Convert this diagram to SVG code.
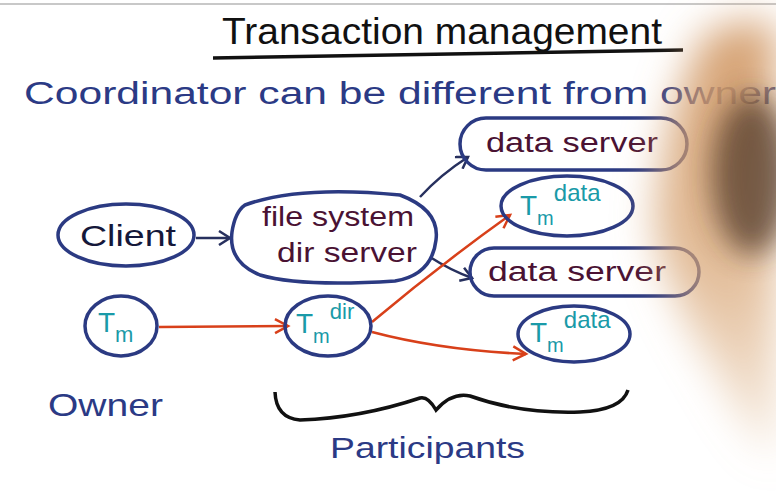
<svg xmlns="http://www.w3.org/2000/svg" width="776" height="500" viewBox="0 0 776 500">
<style>
.node{fill:none;stroke:#2b3a82;stroke-width:3.5}
.srv{font-family:"Liberation Sans",sans-serif;fill:#4a1233;font-size:27px}
.blue{font-family:"Liberation Sans",sans-serif;fill:#2b3a85}
.tm{font-family:"Liberation Sans",sans-serif;fill:#1a9aa8}
.dark{stroke:#27305e;stroke-width:2.5;fill:none}
.red{stroke:#d8401a;stroke-width:2.5;fill:none}
</style>
<defs>
<marker id="ad" markerUnits="userSpaceOnUse" markerWidth="16" markerHeight="16" refX="13" refY="8" orient="auto">
<path d="M2,1 L13,8 L2,15" fill="none" stroke="#27305e" stroke-width="2.5"/>
</marker>
<marker id="ar" markerUnits="userSpaceOnUse" markerWidth="18" markerHeight="18" refX="15" refY="9" orient="auto">
<path d="M2,2 L15,9 L2,16" fill="none" stroke="#d8401a" stroke-width="2.5"/>
</marker>
<filter id="blur" x="-50%" y="-50%" width="200%" height="200%"><feGaussianBlur stdDeviation="20"/></filter>
<filter id="blur2" x="-50%" y="-50%" width="200%" height="200%"><feGaussianBlur stdDeviation="14"/></filter>
<linearGradient id="fade" x1="0" y1="0" x2="0" y2="1">
<stop offset="0" stop-color="#d29a68" stop-opacity="0.95"/>
<stop offset="0.55" stop-color="#d8a676" stop-opacity="0.75"/>
<stop offset="1" stop-color="#dcae80" stop-opacity="0.25"/>
</linearGradient>
</defs>
<rect width="776" height="500" fill="#ffffff"/>
<line x1="0" y1="4" x2="776" y2="4" stroke="#c8c8c8" stroke-width="2"/>

<g id="title">
<text x="222" y="44" font-family="Liberation Sans,sans-serif" font-size="36" fill="#111" textLength="440" lengthAdjust="spacingAndGlyphs">Transaction management</text>
<path d="M213,58 L683,50" stroke="#111" stroke-width="3.5" fill="none"/>
</g>
<text id="subtitle" class="blue" x="24" y="104" font-size="31" textLength="752" lengthAdjust="spacingAndGlyphs">Coordinator can be different from owner</text>

<g id="connectors">
<path class="dark" d="M196,238 L230,238" marker-end="url(#ad)"/>
<path class="dark" d="M420,197 Q440,175 468,157" marker-end="url(#ad)"/>
<path class="dark" d="M430,257 Q450,270 472,278" marker-end="url(#ad)"/>
<path class="red" d="M159,327 L288,326" marker-end="url(#ar)"/>
<path class="red" d="M372,322 Q440,265 510,215" marker-end="url(#ar)"/>
<path class="red" d="M372,332 Q440,350 526,354" marker-end="url(#ar)"/>
</g>

<g id="client">
<ellipse class="node" cx="126" cy="235" rx="68" ry="31"/>
<text x="80" y="246" font-family="Liberation Sans,sans-serif" font-size="30" fill="#15183a" textLength="96" lengthAdjust="spacingAndGlyphs">Client</text>
</g>
<g id="fsdir">
<path class="node" d="M245,205 Q300,185 400,195 Q440,210 436,240 Q432,275 395,281 Q300,287 260,275 Q228,262 232,232 Q235,212 245,205 Z"/>
<text class="srv" x="262" y="226" textLength="152" lengthAdjust="spacingAndGlyphs">file system</text>
<text class="srv" x="277" y="262" textLength="140" lengthAdjust="spacingAndGlyphs">dir server</text>
</g>
<g id="ds1">
<rect class="node" x="460" y="118" width="227" height="52" rx="26"/>
<text class="srv" x="486" y="152" textLength="172" lengthAdjust="spacingAndGlyphs">data server</text>
</g>
<g id="tmdata1">
<ellipse class="node" cx="567" cy="206" rx="66" ry="30"/>
<text class="tm" x="520" y="215" font-size="28">T<tspan font-size="20" dy="10">m</tspan><tspan font-size="24" dy="-24">data</tspan></text>
</g>
<g id="ds2">
<rect class="node" x="470" y="248" width="229" height="48" rx="24"/>
<text class="srv" x="488" y="281" textLength="178" lengthAdjust="spacingAndGlyphs">data server</text>
</g>
<g id="tmdata2">
<ellipse class="node" cx="574" cy="334" rx="56" ry="28"/>
<text class="tm" x="530" y="342" font-size="28">T<tspan font-size="20" dy="10">m</tspan><tspan font-size="24" dy="-24">data</tspan></text>
</g>
<g id="tmowner">
<ellipse class="node" cx="121" cy="326" rx="36" ry="30"/>
<text class="tm" x="98" y="332" font-size="28">T<tspan font-size="22" dy="10">m</tspan></text>
</g>
<g id="tmdir">
<ellipse class="node" cx="328" cy="326" rx="43" ry="30"/>
<text class="tm" x="296" y="333" font-size="28">T<tspan font-size="20" dy="10">m</tspan><tspan font-size="22" dy="-24">dir</tspan></text>
</g>

<text id="owner" class="blue" x="48" y="416" font-size="32" textLength="115" lengthAdjust="spacingAndGlyphs">Owner</text>
<path id="brace" d="M275,392 Q276,418 300,420 Q360,418 420,398 Q428,396 436,410 Q452,392 470,396 Q520,414 580,412 Q622,410 628,390" fill="none" stroke="#111" stroke-width="3.5"/>
<text id="participants" class="blue" x="330" y="458" font-size="30" textLength="195" lengthAdjust="spacingAndGlyphs">Participants</text>

<g id="hand">
<path d="M705,35 Q740,15 776,25 L776,460 Q745,430 715,370 Q670,300 655,230 Q660,120 705,35 Z" fill="url(#fade)" filter="url(#blur)"/>
<ellipse cx="752" cy="175" rx="40" ry="80" fill="#4a3324" filter="url(#blur2)" opacity="0.7"/>
</g>
</svg>
